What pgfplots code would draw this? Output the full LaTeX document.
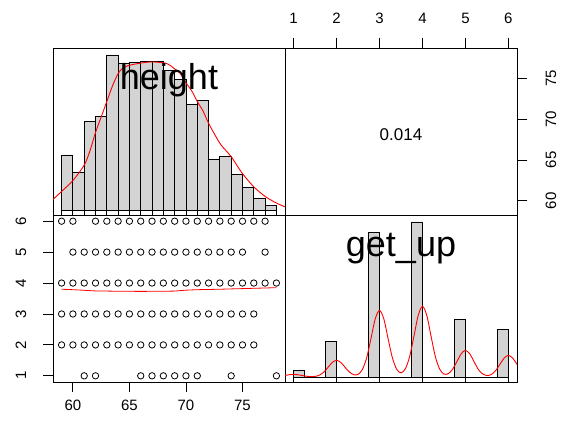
\documentclass[border=0pt]{standalone}
\usepackage{fontspec}
\setmainfont{Liberation Sans}
\usepackage{pgfplots}
\pgfplotsset{compat=1.18}
\definecolor{histgray}{HTML}{D3D3D3}
\newcommand{\ticksize}{\fontsize{15}{18}\selectfont}

\pgfplotsset{
  panel/.style={
    scale only axis, width=232pt, height=167pt,
    axis line style={line width=0.9pt},
    tick style={line width=0.9pt, black},
    tick align=outside, major tick length=10pt,
    minor tick num=0,
    tick label style={font=\ticksize},
    /pgf/number format/assume math mode=true,
  },
  hx/.style={xmin=58.24, xmax=78.76},
  gx/.style={xmin=0.8, xmax=6.2},
  diag/.style={ymin=-0.032, ymax=1.045, xtick=\empty, ytick=\empty},
  bars/.style={ybar interval, fill=histgray, draw=black, line width=0.9pt},
  rug/.style={only marks, mark=|, mark size=2.5pt, mark options={line width=0.9pt}},
  dens/.style={red, line width=0.9pt, smooth},
}
\tikzset{varname/.style={anchor=base, yshift=-41pt, font=\fontsize{36}{40}\selectfont}}

\begin{document}
\begin{tikzpicture}
\path[use as bounding box] (0,0) rectangle (565pt,424pt);

% top left: histogram of height
\begin{axis}[panel, hx, diag, at={(53pt,209pt)}, anchor=south west]
\addplot[bars] coordinates {
  (59,0.355) (60,0.245) (61,0.574) (62,0.606) (63,1.0) (64,0.945)
  (65,0.95) (66,0.957) (67,0.957) (68,0.90) (69,0.84) (70,0.68)
  (71,0.705) (72,0.329) (73,0.344) (74,0.230) (75,0.146) (76,0.075)
  (77,0.028) (78,0)};
\addplot[dens] coordinates {
  (58.24,0.068) (59,0.12) (60,0.19) (61,0.29) (61.5,0.38) (62,0.50)
  (62.5,0.60) (63,0.70) (63.5,0.80) (64,0.88) (64.5,0.92) (65.4,0.94)
  (66.9,0.955) (68.3,0.945) (69,0.91) (69.5,0.88) (70,0.82) (70.5,0.77)
  (71,0.70) (71.5,0.64) (72,0.56) (72.6,0.48) (73.1,0.42) (74,0.344)
  (75,0.235) (76,0.15) (77,0.088) (78,0.045) (78.76,0.021)};
\addplot[rug] coordinates {
  (59,-0.016) (60,-0.016) (61,-0.016) (62,-0.016) (63,-0.016) (64,-0.016)
  (65,-0.016) (66,-0.016) (67,-0.016) (68,-0.016) (69,-0.016) (70,-0.016)
  (71,-0.016) (72,-0.016) (73,-0.016) (74,-0.016) (75,-0.016) (76,-0.016)
  (77,-0.016) (78,-0.016)};
\node[varname] at (rel axis cs:0.5,1) {height};
\end{axis}

% top right: correlation
\begin{axis}[panel, gx, ymin=58.24, ymax=78.76, at={(285pt,209pt)}, anchor=south west,
  xtick={1,2,3,4,5,6}, xtick pos=upper, xticklabel pos=upper,
  ytick={60,65,70,75}, ytick pos=right, yticklabel pos=right,
  xticklabel style={anchor=center}, xticklabel shift=20pt,
  yticklabel style={rotate=90, anchor=center}, yticklabel shift=24pt]
\node[font=\fontsize{17}{20}\selectfont, anchor=center, yshift=-3pt] at (rel axis cs:0.5,0.5) {0.014};
\end{axis}

% bottom left: scatter
\begin{axis}[panel, hx, ymin=0.8, ymax=6.2, at={(53pt,42pt)}, anchor=south west,
  xtick={60,65,70,75}, xtick pos=bottom, xticklabel pos=lower,
  ytick={1,2,3,4,5,6}, ytick pos=left, yticklabel pos=left,
  xticklabel style={anchor=center}, xticklabel shift=13pt,
  yticklabel style={rotate=90, anchor=center}, yticklabel shift=22pt]
\addplot[only marks, mark=o, mark size=3.2pt, mark options={line width=0.8pt}] coordinates {
  (59,6) (60,6) (62,6) (63,6) (64,6) (65,6) (66,6) (67,6) (68,6) (69,6)
  (70,6) (71,6) (72,6) (73,6) (74,6) (75,6) (76,6) (77,6)
  (60,5) (61,5) (62,5) (63,5) (64,5) (65,5) (66,5) (67,5) (68,5) (69,5)
  (70,5) (71,5) (72,5) (73,5) (74,5) (75,5) (77,5)
  (59,4) (60,4) (61,4) (62,4) (63,4) (64,4) (65,4) (66,4) (67,4) (68,4)
  (69,4) (70,4) (71,4) (72,4) (73,4) (74,4) (75,4) (76,4) (77,4) (78,4)
  (59,3) (60,3) (61,3) (62,3) (63,3) (64,3) (65,3) (66,3) (67,3) (68,3)
  (69,3) (70,3) (71,3) (72,3) (73,3) (74,3) (75,3) (76,3)
  (59,2) (60,2) (61,2) (62,2) (63,2) (64,2) (65,2) (66,2) (67,2) (68,2)
  (69,2) (70,2) (71,2) (72,2) (73,2) (74,2) (75,2) (76,2)
  (61,1) (62,1) (66,1) (67,1) (68,1) (69,1) (70,1) (71,1) (74,1) (78,1)};
\addplot[red, line width=0.8pt] coordinates {
  (59,3.80) (60,3.785) (61,3.765) (62,3.745) (64,3.735) (66,3.73)
  (68,3.735) (69,3.74) (70,3.77) (71,3.785) (73,3.80) (75,3.82)
  (77,3.84) (78,3.85)};
\end{axis}

% bottom right: histogram of get_up
\begin{axis}[panel, gx, diag, at={(285pt,42pt)}, anchor=south west]
\addplot[bars] coordinates {
  (1,0.041) (1.25,0) (1.75,0.228) (2,0) (2.75,0.932) (3,0)
  (3.75,1.0) (4,0) (4.75,0.372) (5,0) (5.75,0.306) (6,0)};
\addplot[dens] coordinates {
  (0.8,0.010) (0.9,0.015) (1.0,0.017) (1.1,0.015) (1.2,0.010) (1.3,0.005)
  (1.4,0.003) (1.5,0.004) (1.6,0.012) (1.7,0.031) (1.8,0.062) (1.9,0.094)
  (2.0,0.108) (2.1,0.094) (2.2,0.062) (2.3,0.032) (2.4,0.015) (2.5,0.017)
  (2.6,0.048) (2.7,0.123) (2.8,0.247) (2.9,0.375) (3.0,0.430) (3.1,0.375)
  (3.2,0.247) (3.3,0.124) (3.4,0.050) (3.5,0.027) (3.6,0.053) (3.7,0.131)
  (3.8,0.262) (3.9,0.397) (4.0,0.456) (4.1,0.397) (4.2,0.262) (4.3,0.131)
  (4.4,0.051) (4.5,0.019) (4.6,0.022) (4.7,0.050) (4.8,0.099) (4.9,0.150)
  (5.0,0.172) (5.1,0.150) (5.2,0.099) (5.3,0.049) (5.4,0.020) (5.5,0.010)
  (5.6,0.016) (5.7,0.040) (5.8,0.081) (5.9,0.122) (6.0,0.140) (6.1,0.122)
  (6.2,0.081)};
\addplot[rug] coordinates {
  (1,-0.016) (2,-0.016) (3,-0.016) (4,-0.016) (5,-0.016) (6,-0.016)};
\node[varname] at (rel axis cs:0.5,1) {get\_up};
\end{axis}
\end{tikzpicture}
\end{document}
